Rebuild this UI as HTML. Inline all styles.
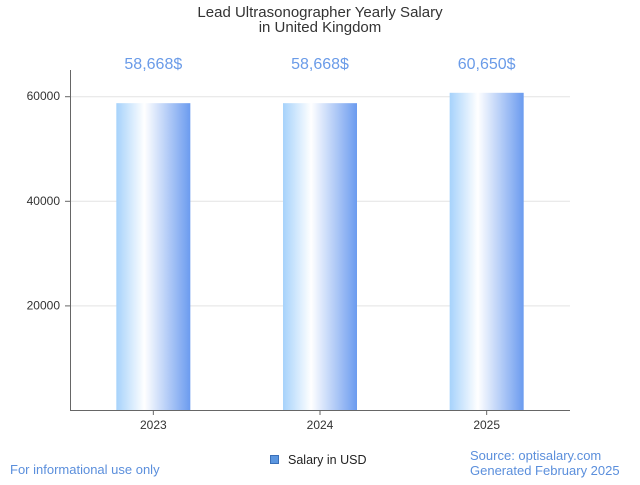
<!DOCTYPE html>
<html><head><meta charset="utf-8"><style>
body{margin:0;background:#fff;font-family:"Liberation Sans",sans-serif}
svg text{font-family:"Liberation Sans",sans-serif}
</style></head><body>
<svg width="640" height="480" xmlns="http://www.w3.org/2000/svg">
<defs><linearGradient id="g" x1="0" x2="1" y1="0" y2="0">
<stop offset="0" stop-color="#a6d2fb"/><stop offset="0.38" stop-color="#ffffff"/><stop offset="1" stop-color="#6b9bef"/></linearGradient></defs>
<text x="320" y="17" font-size="15" fill="#333" text-anchor="middle">Lead Ultrasonographer Yearly Salary</text>
<text x="320" y="32" font-size="15" fill="#333" text-anchor="middle">in United Kingdom</text>
<g id="grid"></g><g id="bars"></g>
<line x1="70.5" y1="70" x2="70.5" y2="410" stroke="#666"/>
<line x1="70" y1="410.5" x2="570" y2="410.5" stroke="#666"/>
<g><rect x="270.5" y="455.5" width="8" height="8" fill="#5b96e0" stroke="#3a6fb8"/>
<text x="288" y="464" font-size="12.5" fill="#222">Salary in USD</text></g>
<text x="10" y="474" font-size="13" fill="#5b8fdc">For informational use only</text>
<text x="470" y="460" font-size="13" fill="#5b8fdc">Source: optisalary.com</text>
<text x="470" y="475" font-size="13" fill="#5b8fdc">Generated February 2025</text>
</svg>
<script>
const categories=["2023","2024","2025"];
const values=[58668,58668,60650];
const valueLabels=["58,668$","58,668$","60,650$"];
const yTicks=[20000,40000,60000];
const NS="http://www.w3.org/2000/svg";
const L=70,R=570,B=410,pxPer=104.6/20000;
const y=v=>B-v*pxPer;
const band=(R-L)/categories.length;
const x=i=>L+band*(i+0.5);
function mk(t,a,p){const e=document.createElementNS(NS,t);for(const k in a)e.setAttribute(k,a[k]);p.appendChild(e);return e;}
const grid=document.getElementById('grid'),bars=document.getElementById('bars');
yTicks.forEach(v=>{
 const l=mk('line',{x1:L,x2:R,y1:y(v)+.5,y2:y(v)+.5,stroke:'#e3e3e3'},grid);
 
 
 const tk=mk('line',{x1:L-5,x2:L,y1:y(v)+.5,y2:y(v)+.5,stroke:'#666'},grid);
 
 
 const t=mk('text',{x:L-10,y:y(v)+4,'font-size':12,fill:'#333','text-anchor':'end'},grid);t.textContent=v;
 
 
});
categories.forEach((c,i)=>{
 const r=mk('rect',{x:x(i)-37,y:y(values[i]),width:74,height:B-y(values[i]),fill:'url(#g)'},bars);
 
 
 const t=mk('text',{x:x(i),y:69,'font-size':16,fill:'#6a9be8','text-anchor':'middle'},bars);t.textContent=valueLabels[i];
 
 
 const tk=mk('line',{x1:x(i),x2:x(i),y1:B,y2:B+5,stroke:'#666'},bars);
 
 
 const xl=mk('text',{x:x(i),y:429,'font-size':12,fill:'#333','text-anchor':'middle'},bars);xl.textContent=c;
 
 
});
</script>
</body></html>
